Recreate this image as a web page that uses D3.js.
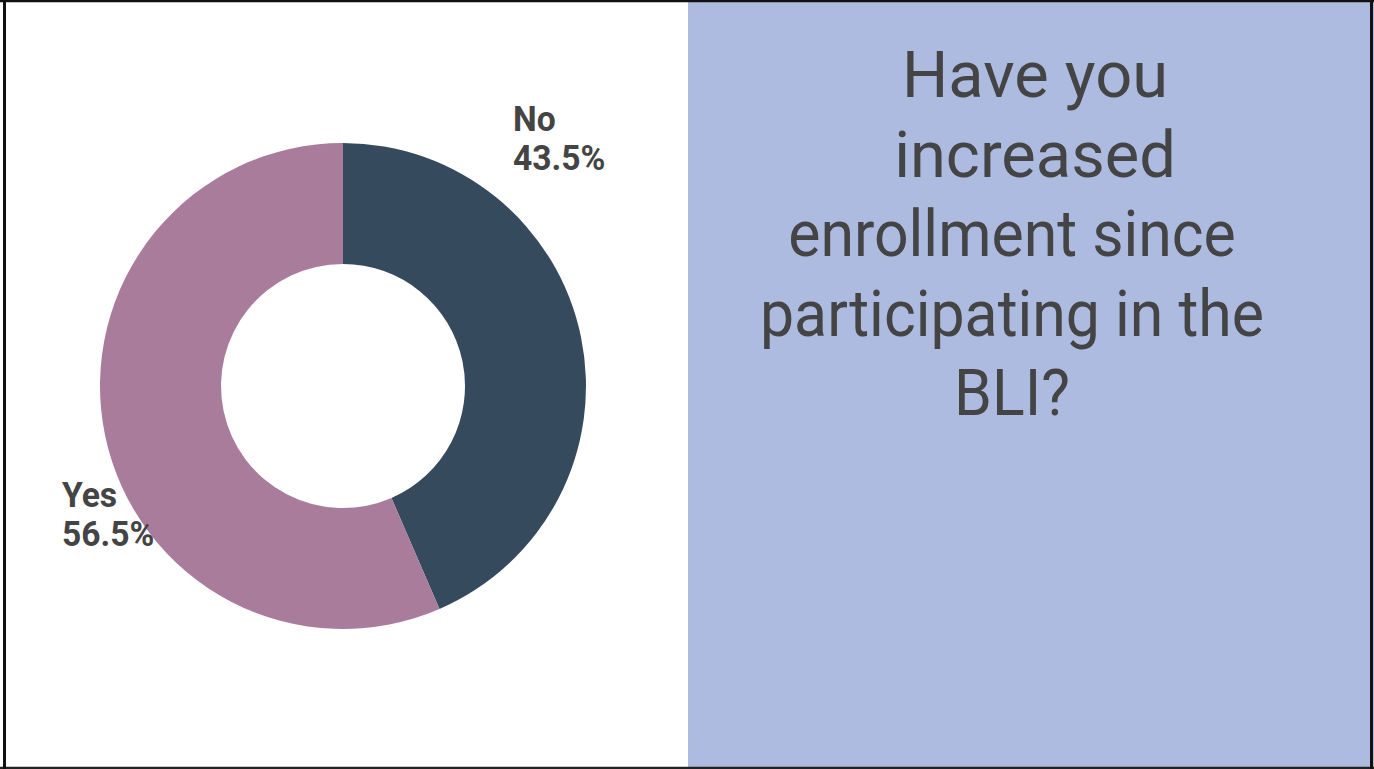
<!DOCTYPE html>
<html>
<head>
<meta charset="utf-8">
<script src="https://cdn.jsdelivr.net/npm/d3@7/dist/d3.min.js"></script>
<style>
html,body{margin:0;padding:0;background:#fff;}
svg{display:block;}
</style>
</head>
<body>
<svg id="chart" width="1374" height="769"></svg>
<script>
// Data
const categories = ["No", "Yes"];
const values = [43.5, 56.5];
const sliceColors = ["#364a5e", "#a97c9b"];
const titleLines = ["Have you", "increased", "enrollment since", "participating in the", "BLI?"];
const titleOffsets = [23, 23, 0, 0, 0];
const titleScales = [1, 1, 0.935, 0.935, 0.935];

const W = 1374, H = 769;
const svg = d3.select("#chart");

// Right panel
svg.append("rect").attr("x", 688).attr("y", 0).attr("width", W - 688).attr("height", H).attr("fill", "#aebbe0");

// Donut
const cx = 343, cy = 386, R = 243, r = 122;
const pie = d3.pie().sort(null).value(d => d.v);
const arcs = pie(categories.map((c, i) => ({c, v: values[i]})));
const arc = d3.arc().innerRadius(r).outerRadius(R);
const g = svg.append("g").attr("transform", `translate(${cx},${cy})`);
g.selectAll("path").data(arcs).join("path")
  .attr("d", arc)
  .attr("fill", (d, i) => sliceColors[i]);

// Labels
const labelPos = [{x: 513, y: 131}, {x: 62, y: 507}];
const lg = svg.append("g").attr("font-family", "Roboto, sans-serif").attr("font-weight", 700)
  .attr("font-size", 35).attr("fill", "#444444");
arcs.forEach((d, i) => {
  const t = lg.append("text").attr("transform", `translate(${labelPos[i].x},${labelPos[i].y}) scale(0.96,1)`);
  t.append("tspan").attr("x", 0).attr("y", 0).text(categories[i]);
  t.append("tspan").attr("x", 0).attr("y", 39).text(d3.format(".1f")(values[i]) + "%");
});

// Title
const tg = svg.append("g").attr("font-family", "Roboto, sans-serif").attr("font-weight", 400)
  .attr("font-size", 65).attr("fill", "#444444").attr("text-anchor", "middle");
titleLines.forEach((line, i) => {
  tg.append("text")
    .attr("transform", `translate(${1012 + titleOffsets[i]},${97 + i * 79.5}) scale(${titleScales[i]},1)`)
    .text(line);
});

// Border
svg.append("line").attr("x1", 0).attr("x2", W).attr("y1", 1).attr("y2", 1).attr("stroke", "#111").attr("stroke-width", 2.5);
svg.append("line").attr("x1", 0).attr("x2", W).attr("y1", 768).attr("y2", 768).attr("stroke", "#222").attr("stroke-width", 2.5);
svg.append("line").attr("x1", 4.5).attr("x2", 4.5).attr("y1", 0).attr("y2", H).attr("stroke", "#111").attr("stroke-width", 3);
svg.append("line").attr("x1", 1371.5).attr("x2", 1371.5).attr("y1", 0).attr("y2", H).attr("stroke", "#111").attr("stroke-width", 3);
</script>
</body>
</html>
